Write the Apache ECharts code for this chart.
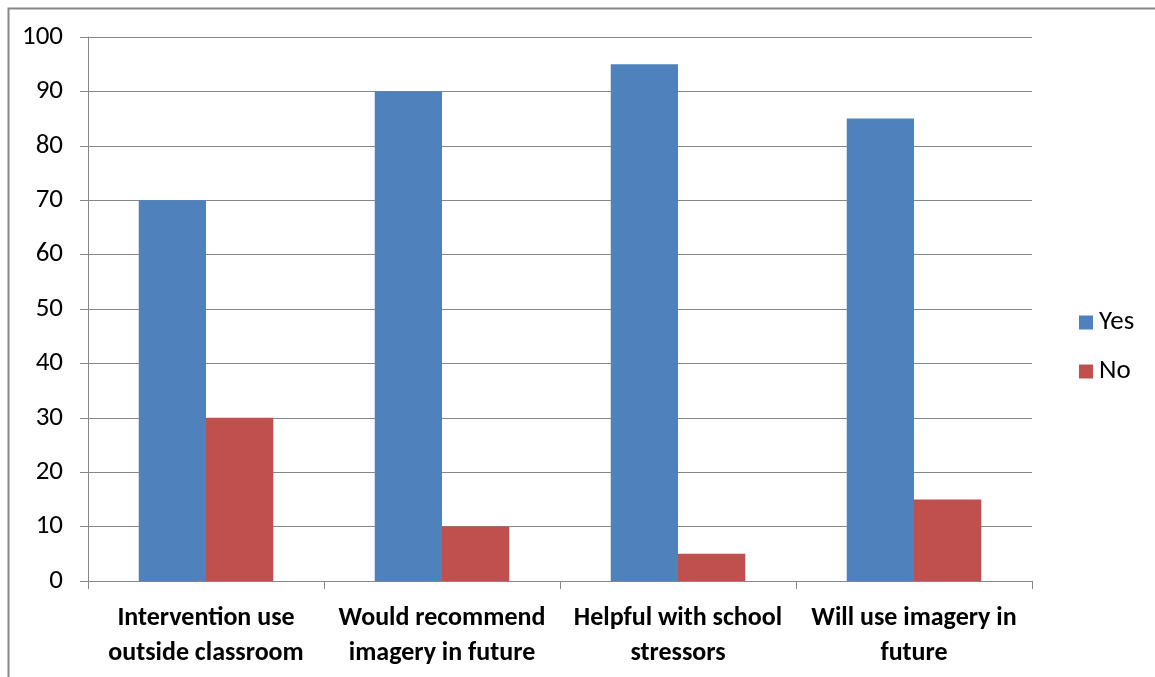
<!DOCTYPE html>
<html>
<head>
<meta charset="utf-8">
<script src="https://cdn.jsdelivr.net/npm/echarts@6/dist/echarts.min.js"></script>
<style>html,body{margin:0;padding:0;background:#fff}#c{width:1155px;height:677px}</style>
</head>
<body>
<div id="c"></div>
<script>
const categories = ["Intervention use\noutside classroom", "Would recommend\nimagery in future", "Helpful with school\nstressors", "Will use imagery in\nfuture"];
const yesValues = [70, 90, 95, 85];
const noValues = [30, 10, 5, 15];
const seriesNames = ["Yes", "No"];

const FONT = "Carlito, Lato, 'Liberation Sans', sans-serif";
const chart = echarts.init(document.getElementById('c'), null, {renderer: 'canvas'});
chart.setOption({
  animation: false,
  backgroundColor: '#fff',
  graphic: [{
    type: 'rect', left: 6, top: 6,
    shape: {x: 0, y: 0, width: 1200, height: 700},
    style: {fill: 'none', stroke: '#878787', lineWidth: 2},
    silent: true
  }],
  grid: {left: 88, right: 123, top: 37, bottom: 96, containLabel: false},
  legend: {
    orient: 'vertical', left: 1074, top: 304, itemWidth: 14, itemHeight: 14, itemGap: 22,
    icon: 'rect',
    textStyle: {fontFamily: FONT, fontSize: 27, color: '#000', padding: [0,0,0,1]},
    data: seriesNames
  },
  xAxis: {
    type: 'category', data: categories, boundaryGap: true,
    axisLine: {lineStyle: {color: '#878787', width: 1}},
    axisTick: {show: true, length: 8, alignWithLabel: false, lineStyle: {color: '#878787'}},
    axisLabel: {fontFamily: FONT, fontSize: 26, fontWeight: 'bold', color: '#000', margin: 20, lineHeight: 35, interval: 0}
  },
  yAxis: {
    type: 'value', min: 0, max: 100, interval: 10,
    axisLine: {show: true, lineStyle: {color: '#878787'}},
    axisTick: {show: true, length: 8, lineStyle: {color: '#878787'}},
    splitLine: {lineStyle: {color: '#878787', width: 1}},
    axisLabel: {fontFamily: FONT, fontSize: 27, color: '#000', margin: 25}
  },
  series: [
    {name: seriesNames[0], type: 'bar', data: yesValues, barGap: '0%', barCategoryGap: '43%', itemStyle: {color: '#4F81BD'}},
    {name: seriesNames[1], type: 'bar', data: noValues, barGap: '0%', barCategoryGap: '43%', itemStyle: {color: '#C0504D'}}
  ]
});
</script>
</body>
</html>
